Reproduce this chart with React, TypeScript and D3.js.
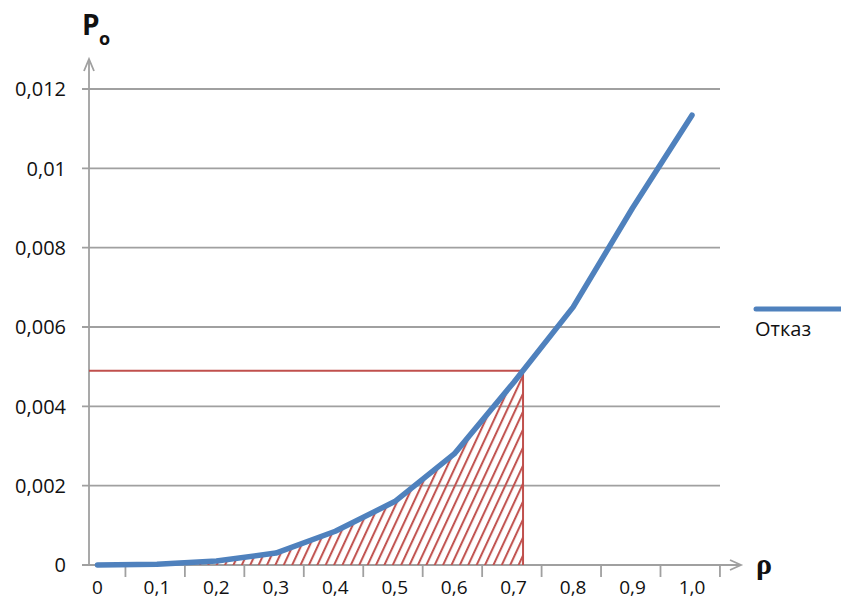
import React from "react";
import * as d3 from "d3";

const rhoValues = [0, 0.1, 0.2, 0.3, 0.4, 0.5, 0.6, 0.7, 0.8, 0.9, 1.0];
const failProb = [0, 0.00002, 0.0001, 0.0003, 0.00085, 0.0016, 0.0028, 0.0046, 0.0065, 0.009, 0.01134];
const yTicks = [0, 0.002, 0.004, 0.006, 0.008, 0.01, 0.012];
const yTickLabels = ["0", "0,002", "0,004", "0,006", "0,008", "0,01", "0,012"];
const xTickLabels = ["0", "0,1", "0,2", "0,3", "0,4", "0,5", "0,6", "0,7", "0,8", "0,9", "1,0"];
const thresholdValue = 0.0049;
const seriesName = "Отказ";

const W = 841;
const H = 600;
const axisX = 89;
const axisY = 565;
const gridRight = 720;
const BLUE = "#4F81BD";
const RED = "#C0504D";
const GRAY = "#A0A0A0";
const FONT = "'Open Sans', 'Noto Sans', sans-serif";

export default function App() {
  const x = d3.scaleLinear().domain([0, 1]).range([97.5, 692]);
  const y = d3.scaleLinear().domain([0, 0.012]).range([axisY, 89]);
  const data = rhoValues.map((r, i) => ({ r, v: failProb[i] }));

  let cutRho = 0;
  for (let i = 1; i < data.length; i++) {
    if (data[i].v >= thresholdValue && data[i - 1].v < thresholdValue) {
      cutRho = d3.scaleLinear().domain([data[i - 1].v, data[i].v]).range([data[i - 1].r, data[i].r])(thresholdValue);
      break;
    }
  }
  const cutX = x(cutRho);

  const line = d3.line<{ r: number; v: number }>().x(d => x(d.r)).y(d => y(d.v));
  const area = d3.area<{ r: number; v: number }>().x(d => x(d.r)).y0(axisY).y1(d => y(d.v));

  return (
    <svg width={W} height={H} style={{ position: "absolute", left: 0, top: 0, background: "#fff" }}>
      <defs>
        <pattern id="hatch" patternUnits="userSpaceOnUse" width={7.6} height={10} patternTransform="rotate(25)">
          <line x1={2} y1={0} x2={2} y2={10} stroke={RED} strokeWidth={2} />
        </pattern>
        <clipPath id="cutClip">
          <rect x={0} y={0} width={cutX} height={axisY} />
        </clipPath>
      </defs>

      {yTicks.map((t, i) => (
        <line key={"g" + i} x1={82} x2={i === 0 ? 740 : gridRight} y1={y(t)} y2={y(t)} stroke={GRAY} strokeWidth={1.8} />
      ))}

      {yTicks.map((t, i) => (
        <text key={"yl" + i} x={66} y={y(t)} dy="0.36em" textAnchor="end" fontFamily={FONT} fontSize={20} fill="#111">
          {yTickLabels[i]}
        </text>
      ))}

      <line x1={axisX} x2={axisX} y1={axisY} y2={59} stroke={GRAY} strokeWidth={1.8} />
      <polyline points={`${axisX - 5},${71} ${axisX},${59} ${axisX + 5},${71}`} fill="none" stroke={GRAY} strokeWidth={1.8} />

      <polyline points={`${730},${560} ${741},${axisY} ${730},${570}`} fill="none" stroke={GRAY} strokeWidth={1.8} />

      {rhoValues.map((r, i) => (
        <line key={"xt" + i} x1={x(r + 0.047)} x2={x(r + 0.047)} y1={axisY} y2={577} stroke={GRAY} strokeWidth={1.8} />
      ))}

      {rhoValues.map((r, i) => (
        <text key={"xl" + i} x={x(r)} y={587} dy="0.36em" textAnchor="middle" fontFamily={FONT} fontSize={19} fill="#111">
          {xTickLabels[i]}
        </text>
      ))}

      <path d={area(data) || ""} fill="url(#hatch)" clipPath="url(#cutClip)" />

      <line x1={axisX} x2={cutX} y1={y(thresholdValue)} y2={y(thresholdValue)} stroke={RED} strokeWidth={2} />
      <line x1={cutX} x2={cutX} y1={y(thresholdValue)} y2={axisY} stroke={RED} strokeWidth={2} />

      <path d={line(data) || ""} fill="none" stroke={BLUE} strokeWidth={5.5} strokeLinecap="round" strokeLinejoin="round" />

      <line x1={756} x2={841} y1={309} y2={309} stroke={BLUE} strokeWidth={5} strokeLinecap="round" />
      <text x={755} y={329} dy="0.36em" fontFamily={FONT} fontSize={20} fill="#111">{seriesName}</text>

      <text x={82} y={35} fontFamily={FONT} fontSize={28} fontWeight="bold" fill="#111">P</text>
      <text x={99} y={45} fontFamily={FONT} fontSize={18} fontWeight="bold" fill="#111">o</text>
      <text x={756} y={574} fontFamily="'Liberation Serif', serif" fontSize={30} fontWeight="bold" fill="#111">ρ</text>
    </svg>
  );
}
